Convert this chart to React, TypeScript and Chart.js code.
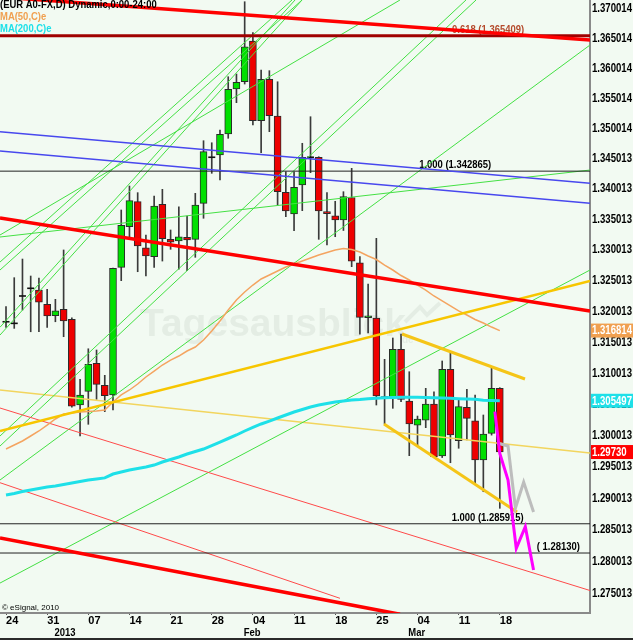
import React, { useEffect, useRef } from 'react';
import { Chart, registerables } from 'chart.js';

Chart.register(...registerables);

// ---------- data ----------
const dates = [
  '2012-12-24', '2012-12-25', '2012-12-26', '2012-12-27', '2012-12-28',
  '2012-12-31', '2013-01-01', '2013-01-02', '2013-01-03', '2013-01-04',
  '2013-01-07', '2013-01-08', '2013-01-09', '2013-01-10', '2013-01-11',
  '2013-01-14', '2013-01-15', '2013-01-16', '2013-01-17', '2013-01-18',
  '2013-01-21', '2013-01-22', '2013-01-23', '2013-01-24', '2013-01-25',
  '2013-01-28', '2013-01-29', '2013-01-30', '2013-01-31', '2013-02-01',
  '2013-02-04', '2013-02-05', '2013-02-06', '2013-02-07', '2013-02-08',
  '2013-02-11', '2013-02-12', '2013-02-13', '2013-02-14', '2013-02-15',
  '2013-02-18', '2013-02-19', '2013-02-20', '2013-02-21', '2013-02-22',
  '2013-02-25', '2013-02-26', '2013-02-27', '2013-02-28', '2013-03-01',
  '2013-03-04', '2013-03-05', '2013-03-06', '2013-03-07', '2013-03-08',
  '2013-03-11', '2013-03-12', '2013-03-13', '2013-03-14', '2013-03-15',
  '2013-03-18',
];

const opens = [
  1.31824, 1.31798, 1.32242, 1.32367, 1.32339, 1.32107, 1.31922, 1.32026, 1.31863, 1.30482,
  1.30702, 1.31153, 1.30798, 1.30643, 1.32709, 1.33372, 1.33784, 1.33029, 1.32882, 1.33741,
  1.33166, 1.33139, 1.33200, 1.33166, 1.33757, 1.34516, 1.34554, 1.34901, 1.35649, 1.35770,
  1.36452, 1.35122, 1.35811, 1.35200, 1.33938, 1.33581, 1.34059, 1.34516, 1.34516, 1.33619,
  1.33553, 1.33483, 1.33852, 1.32784, 1.31890, 1.31884, 1.30606, 1.30606, 1.31379, 1.30547,
  1.30161, 1.30241, 1.30498, 1.29667, 1.31055, 1.29911, 1.30445, 1.30230, 1.29603, 1.30029,
  1.30750,
];
const highs = [
  1.32068, 1.32540, 1.32844, 1.32567, 1.32535, 1.32351, 1.32188, 1.32992, 1.31889, 1.30894,
  1.31387, 1.31367, 1.30959, 1.32698, 1.33647, 1.34041, 1.33932, 1.33237, 1.33877, 1.33987,
  1.33319, 1.33701, 1.33548, 1.33921, 1.34790, 1.34756, 1.34967, 1.35854, 1.35899, 1.37112,
  1.36591, 1.35966, 1.35955, 1.35770, 1.34277, 1.34277, 1.34747, 1.35188, 1.34525, 1.33932,
  1.33790, 1.33948, 1.34333, 1.32882, 1.32437, 1.33182, 1.31217, 1.31561, 1.31626, 1.31017,
  1.30305, 1.30750, 1.30695, 1.31190, 1.31340, 1.30562, 1.30734, 1.30643, 1.30322, 1.31072,
  1.30760,
];
const lows = [
  1.31733, 1.31717, 1.32014, 1.31662, 1.31662, 1.31733, 1.31824, 1.31582, 1.30449, 1.29986,
  1.30173, 1.30573, 1.30375, 1.30402, 1.32491, 1.33187, 1.32637, 1.32567, 1.32709, 1.32811,
  1.33003, 1.32677, 1.32653, 1.32872, 1.33511, 1.34251, 1.34141, 1.34830, 1.35421, 1.35732,
  1.35050, 1.34591, 1.34940, 1.33729, 1.33537, 1.33308, 1.33636, 1.34261, 1.33166, 1.33073,
  1.33209, 1.33311, 1.32719, 1.31621, 1.31642, 1.30482, 1.30178, 1.30429, 1.30535, 1.29672,
  1.29831, 1.30119, 1.29642, 1.29642, 1.29560, 1.29790, 1.29922, 1.29242, 1.29099, 1.30000,
  1.28836,
];
const closes = [
  1.31824, 1.31798, 1.32242, 1.32367, 1.32140, 1.31917, 1.32003, 1.31836, 1.30465, 1.30643,
  1.31137, 1.30814, 1.30631, 1.32693, 1.33396, 1.33800, 1.33057, 1.32893, 1.33713, 1.33176,
  1.33118, 1.33209, 1.33155, 1.33729, 1.34608, 1.34516, 1.34897, 1.35644, 1.35761, 1.36356,
  1.35122, 1.35811, 1.35205, 1.33948, 1.33630, 1.34020, 1.34516, 1.34516, 1.33630, 1.33586,
  1.33483, 1.33869, 1.32811, 1.31895, 1.31920, 1.30627, 1.30606, 1.31379, 1.30570, 1.30178,
  1.30258, 1.30498, 1.29655, 1.31055, 1.30002, 1.30455, 1.30269, 1.29603, 1.30018, 1.30750,
  1.29730,
];

const ma50 = [
  1.29778, 1.29842, 1.29906, 1.29986, 1.30066, 1.30161, 1.30258, 1.30338, 1.30354, 1.30370,
  1.30378, 1.30385, 1.30402, 1.30530, 1.30643, 1.30723, 1.30819, 1.30932, 1.31028, 1.31125,
  1.31205, 1.31270, 1.31351, 1.31415, 1.31529, 1.31674, 1.31836, 1.32015, 1.32177, 1.32307,
  1.32420, 1.32519, 1.32583, 1.32648, 1.32714, 1.32763, 1.32811, 1.32861, 1.32910, 1.32950,
  1.32992, 1.33016, 1.33000, 1.32958, 1.32893, 1.32836, 1.32746, 1.32665, 1.32575, 1.32502,
  1.32420, 1.32339, 1.32242, 1.32161, 1.32080, 1.31999, 1.31933, 1.31860, 1.31803, 1.31738,
  1.31681,
];
const ma200 = [
  1.29047, 1.29071, 1.29102, 1.29126, 1.29150, 1.29173, 1.29189, 1.29214, 1.29237, 1.29261,
  1.29285, 1.29301, 1.29319, 1.29380, 1.29411, 1.29444, 1.29467, 1.29491, 1.29523, 1.29571,
  1.29611, 1.29651, 1.29698, 1.29738, 1.29778, 1.29834, 1.29890, 1.29946, 1.30002, 1.30066,
  1.30122, 1.30178, 1.30225, 1.30274, 1.30322, 1.30370, 1.30410, 1.30450, 1.30482, 1.30506,
  1.30530, 1.30546, 1.30562, 1.30570, 1.30581, 1.30589, 1.30597, 1.30602, 1.30607, 1.30607,
  1.30606, 1.30602, 1.30597, 1.30594, 1.30589, 1.30584, 1.30578, 1.30573, 1.30560, 1.30555,
  1.30550,
];

// projections drawn after the last bar (x in bar-index units)
const projGrayX = [59.7, 61, 61.9, 62.9, 64.1];
const projGrayY = [1.29874, 1.29826, 1.28840, 1.29253, 1.28777];
const projPinkX = [59.4, 60.0, 61.0, 62.0, 63.1, 64.1];
const projPinkY = [1.30375, 1.29709, 1.29285, 1.28204, 1.28545, 1.27863];

// trend lines: [x0, price0, x1, price1] (x in bar-index units)
const greenLines = [
  [-0.73, 1.32795, 34.75, 1.37141],
  [-0.73, 1.32665, 35.97, 1.37141],
  [-0.73, 1.31735, 35.12, 1.37141],
  [-0.73, 1.31609, 35.97, 1.37141],
  [-0.73, 1.29986, 55.89, 1.37141],
  [-0.73, 1.29826, 57.11, 1.37141],
  [-0.73, 1.29285, 70.96, 1.36384],
  [-0.73, 1.27658, 70.96, 1.32665],
  [-0.73, 1.33237, 47.87, 1.37141],
  [-0.73, 1.33204, 70.96, 1.34305],
];
const redThickLines = [
  [-0.73, 1.37192, 70.96, 1.36468],
  [-0.73, 1.33516, 70.96, 1.31998],
  [-0.73, 1.28367, 47.87, 1.27168],
];
const redThinLines = [
  [-0.73, 1.30434, 70.96, 1.27541],
  [-0.73, 1.29242, 40.58, 1.27419],
];
const blueLines = [
  [-0.73, 1.34939, 70.96, 1.34086],
  [-0.73, 1.34620, 70.96, 1.33757],
];
const goldThickLines = [
  [-0.73, 1.30066, 70.96, 1.32486],
];
const goldChannelLines = [
  [48.12, 1.31626, 63.06, 1.30900],
  [45.93, 1.30178, 62.09, 1.28777],
];
const yellowThinLines = [
  [-0.73, 1.30723, 70.96, 1.29714],
];

const fibLevels = [1.365409, 1.342865, 1.285915, 1.2813];
const fibLabels = ['0.618 (1.365409)', '1.000 (1.342865)', '1.000 (1.285915)', '( 1.28130)'];
const fibLabelX = [54.2, 50.2, 54.15, 64.5];

const yTickLabels = [
  '1.275013', '1.280013', '1.285013', '1.290013', '1.295013', '1.300013', '1.305013',
  '1.310013', '1.315013', '1.320013', '1.325013', '1.330013', '1.335013', '1.340013',
  '1.345013', '1.350014', '1.355014', '1.360014', '1.365014', '1.370014',
];
const xTickIdx = [0, 5, 10, 15, 20, 25, 30, 35, 40, 45, 50, 55, 60];
const xTickLabels = ['24', '31', '07', '14', '21', '28', '04', '11', '18', '25', '04', '11', '18'];
const monthIdx = [6, 29, 49];
const monthLabels = ['2013', 'Feb', 'Mar'];
const lastValueLabels = ['1.316814', '1.305497', '1.29730'];
const headerLines = ['(EUR A0-FX,D) Dynamic,0:00-24:00', 'MA(50,C)e', 'MA(200,C)e'];

// ---------- view / style ----------
const X_MIN = -0.73;
const X_MAX = 70.96;
const Y_MIN = 1.27189;
const Y_MAX = 1.37141;
const BG = '#f2faf2';
const FONT = '"Liberation Sans", Arial, sans-serif';
const GREEN = '#00e000';
const RED = '#ee0000';

const seg = (l: number[], color: string, width: number, order = 2) => ({
  type: 'line' as const,
  data: [{ x: l[0], y: l[1] }, { x: l[2], y: l[3] }],
  borderColor: color,
  borderWidth: width,
  pointRadius: 0,
  fill: false,
  tension: 0,
  clip: 0,
  order,
});

const narrowText = (ctx: CanvasRenderingContext2D, text: string, x: number, y: number, sx: number) => {
  ctx.save();
  ctx.translate(x, y);
  ctx.scale(sx, 1);
  ctx.fillText(text, 0, 0);
  ctx.restore();
};

const decorPlugin = {
  id: 'decor',
  beforeDraw(chart: any) {
    const { ctx, width, height } = chart;
    ctx.save();
    ctx.fillStyle = BG;
    ctx.fillRect(0, 0, width, height);
    ctx.restore();
  },
  beforeDatasetsDraw(chart: any) {
    const { ctx, chartArea } = chart;
    const xs = chart.scales.x;
    const ys = chart.scales.y;
    ctx.save();
    ctx.beginPath();
    ctx.rect(chartArea.left, chartArea.top, chartArea.right - chartArea.left, chartArea.bottom - chartArea.top);
    ctx.clip();
    // watermark
    ctx.fillStyle = 'rgba(120,140,120,0.11)';
    ctx.font = 'bold 39px "Liberation Sans", Arial, sans-serif';
    ctx.textBaseline = 'alphabetic';
    ctx.textAlign = 'left';
    ctx.fillText('Tagesausblick', chartArea.left + 140, chartArea.top + 336);
    ctx.font = 'bold 10px "Liberation Sans", Arial, sans-serif';
    ctx.fillText('de', chartArea.left + 402, chartArea.top + 343);
    ctx.strokeStyle = 'rgba(120,140,120,0.11)';
    ctx.lineWidth = 4;
    ctx.beginPath();
    ctx.moveTo(chartArea.left + 405, chartArea.top + 322);
    ctx.lineTo(chartArea.left + 420, chartArea.top + 307);
    ctx.lineTo(chartArea.left + 427, chartArea.top + 315);
    ctx.lineTo(chartArea.left + 440, chartArea.top + 303);
    ctx.stroke();
    // fib labels
    ctx.font = `bold 11px ${FONT}`;
    fibLevels.forEach((v, i) => {
      ctx.fillStyle = i === 0 ? '#b44a2c' : '#000000';
      narrowText(ctx, fibLabels[i], xs.getPixelForValue(fibLabelX[i]), ys.getPixelForValue(v) - 3, 0.86);
    });
    ctx.restore();
  },
  afterDraw(chart: any) {
    const { ctx, width, height, chartArea } = chart;
    const ys = chart.scales.y;
    const xs = chart.scales.x;
    ctx.save();
    // y tick labels (condensed bold, like the original bitmap font)
    ctx.font = `bold 12px ${FONT}`;
    ctx.textBaseline = 'middle';
    ctx.textAlign = 'left';
    ctx.fillStyle = '#000000';
    ys.ticks.forEach((t: any, i: number) => {
      narrowText(ctx, yTickLabels[i], chartArea.right + 2, ys.getPixelForValue(t.value) + 0.5, 0.8);
    });
    // month row under the day labels
    ctx.font = `bold 11px ${FONT}`;
    monthIdx.forEach((m, i) => {
      narrowText(ctx, monthLabels[i], xs.getPixelForValue(m) - 1, chartArea.bottom + 19.5, 0.86);
    });
    // last value boxes
    const vals = [ma50[ma50.length - 1], ma200[ma200.length - 1], closes[closes.length - 1]];
    const cols = ['#f0a050', '#1ee0e8', '#ff0000'];
    ctx.font = `bold 12px ${FONT}`;
    vals.forEach((v, i) => {
      const y = ys.getPixelForValue(v);
      ctx.fillStyle = cols[i];
      ctx.fillRect(chartArea.right + 1, y - 7, width - chartArea.right - 1, 14);
      ctx.fillStyle = '#ffffff';
      narrowText(ctx, lastValueLabels[i], chartArea.right + 2, y + 0.5, 0.8);
    });
    // header
    ctx.textBaseline = 'alphabetic';
    ctx.font = `bold 11px ${FONT}`;
    const hc = ['#000000', '#f0a050', '#1ee0e8'];
    headerLines.forEach((t, i) => {
      ctx.fillStyle = hc[i];
      narrowText(ctx, t, 0, 8 + i * 12, 0.86);
    });
    // copyright
    ctx.font = `8px ${FONT}`;
    ctx.fillStyle = '#000000';
    ctx.fillText('\u00a9 eSignal, 2010', 2, chartArea.bottom - 3);
    // bottom frame line
    ctx.fillStyle = '#2a2a2a';
    ctx.fillRect(0, height - 2, width, 2);
    ctx.restore();
  },
};

export default function App() {
  const ref = useRef<HTMLCanvasElement>(null);

  useEffect(() => {
    const canvas = ref.current;
    if (!canvas) return;
    const idx = dates.map((_, i) => i);
    const isDoji = (i: number) => opens[i] === closes[i];
    const bodyIdx = idx.filter((i) => !isDoji(i));
    const datasets: any[] = [
      {
        type: 'bar',
        data: idx.map((i) => ({ x: i, y: [lows[i], highs[i]] })),
        backgroundColor: '#3a3a3a',
        barThickness: 1,
        grouped: false,
        order: 20,
      },
      {
        type: 'bar',
        data: bodyIdx.map((i) => ({ x: i, y: [Math.min(opens[i], closes[i]), Math.max(opens[i], closes[i])] })),
        backgroundColor: bodyIdx.map((i) => (closes[i] >= opens[i] ? GREEN : RED)),
        borderColor: '#2a2a2a',
        borderWidth: 1,
        borderSkipped: false,
        barThickness: 7,
        grouped: false,
        order: 19,
      },
      {
        type: 'line',
        data: idx.filter(isDoji).map((i) => ({ x: i, y: opens[i] })),
        showLine: false,
        pointStyle: 'line',
        pointRadius: 3.5,
        pointBorderWidth: 1.6,
        pointBorderColor: '#111111',
        order: 18,
      },
      ...yellowThinLines.map((l) => seg(l, '#f2d55e', 1.5, 9)),
      ...redThinLines.map((l) => seg(l, '#ff4a4a', 1, 8)),
      ...greenLines.map((l) => seg(l, '#44e044', 1, 8)),
      ...blueLines.map((l) => seg(l, '#4848ee', 1.5, 7)),
      ...fibLevels.map((v, i) =>
        seg([X_MIN, v, X_MAX, v], i === 0 ? '#a00000' : '#222222', i === 0 ? 3 : 1, 7)
      ),
      {
        type: 'line',
        data: idx.map((i) => ({ x: i, y: ma50[i] })),
        borderColor: '#f4a460',
        borderWidth: 1.5,
        pointRadius: 0,
        fill: false,
        clip: 0,
        order: 6,
      },
      {
        type: 'line',
        data: idx.map((i) => ({ x: i, y: ma200[i] })),
        borderColor: '#1ee0e8',
        borderWidth: 3,
        pointRadius: 0,
        fill: false,
        clip: 0,
        order: 5,
      },
      ...goldThickLines.map((l) => seg(l, '#f7c600', 2.5, 4)),
      ...goldChannelLines.map((l) => seg(l, '#f5c518', 3, 4)),
      ...redThickLines.map((l) => seg(l, '#ff0000', 3.5, 3)),
      {
        type: 'line',
        data: projGrayX.map((x, i) => ({ x, y: projGrayY[i] })),
        borderColor: '#bdbdbd',
        borderWidth: 3,
        pointRadius: 0,
        fill: false,
        clip: 0,
        order: 2,
      },
      {
        type: 'line',
        data: projPinkX.map((x, i) => ({ x, y: projPinkY[i] })),
        borderColor: '#ff00ff',
        borderWidth: 3,
        pointRadius: 0,
        fill: false,
        clip: 0,
        order: 1,
      },
    ];

    const chart = new Chart(canvas, {
      type: 'bar',
      data: { datasets },
      plugins: [decorPlugin],
      options: {
        animation: false,
        responsive: false,
        maintainAspectRatio: false,
        events: [],
        layout: { padding: 0, autoPadding: false },
        plugins: { legend: { display: false }, tooltip: { enabled: false } },
        scales: {
          x: {
            type: 'linear',
            position: 'bottom',
            offset: false,
            min: X_MIN,
            max: X_MAX,
            grid: { display: true, offset: false, drawOnChartArea: false, drawTicks: true, tickLength: 2, color: '#555555' },
            border: { display: true, color: '#8a8a8a', width: 2 },
            ticks: {
              autoSkip: false,
              maxRotation: 0,
              align: 'start',
              padding: 0,
              color: '#000000',
              font: { family: FONT, size: 11, weight: 'bold', lineHeight: 1 },
              callback: (_v: any, i: number) => xTickLabels[i],
            },
            afterBuildTicks: (s: any) => {
              s.ticks = xTickIdx.map((v) => ({ value: v }));
            },
            afterFit: (s: any) => {
              s.height = 27;
              s.paddingLeft = 0;
              s.paddingRight = 0;
            },
          },
          y: {
            type: 'logarithmic',
            position: 'right',
            min: Y_MIN,
            max: Y_MAX,
            grid: { display: false, drawTicks: false },
            border: { display: true, color: '#8a8a8a', width: 2 },
            ticks: { display: false },
            afterBuildTicks: (s: any) => {
              s.ticks = yTickLabels.map((t) => ({ value: parseFloat(t) }));
            },
            afterFit: (s: any) => {
              s.width = 43;
              s.paddingTop = 0;
              s.paddingBottom = 0;
            },
          },
        },
      } as any,
    });
    return () => chart.destroy();
  }, []);

  return (
    <div style={{ position: 'fixed', left: 0, top: 0, width: 633, height: 640, background: BG }}>
      <canvas ref={ref} width={633} height={640} style={{ display: 'block', width: 633, height: 640 }} />
    </div>
  );
}
